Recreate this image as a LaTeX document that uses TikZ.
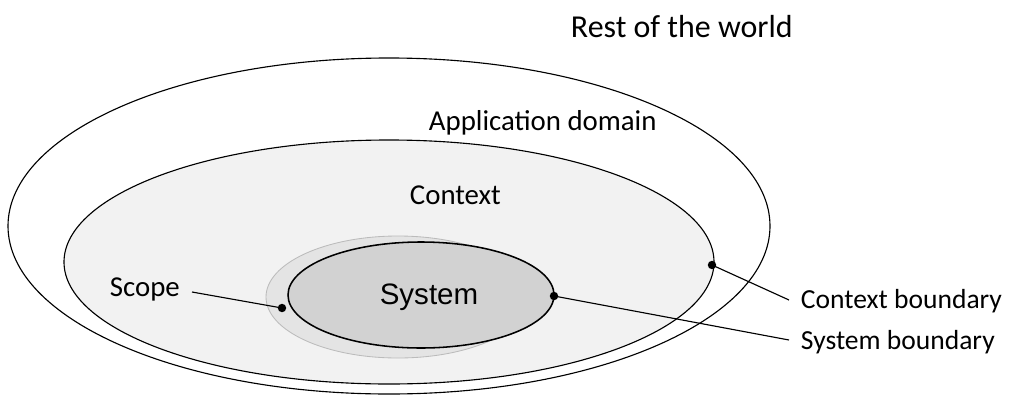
\documentclass[tikz,border=0pt]{standalone}
\usepackage{fontspec}
\setmainfont{Carlito}
\newfontfamily\arialfont{Liberation Sans}
\usepackage{tikz}
\usetikzlibrary{positioning}
\definecolor{ctxgray}{HTML}{F2F2F2}
\definecolor{scopegray}{HTML}{E4E4E4}
\definecolor{scopeline}{HTML}{BBBBBB}
\definecolor{sysgray}{HTML}{D2D2D2}
\tikzstyle{lbl}=[inner sep=1pt, font=\fontsize{20.5}{24}\selectfont]
\tikzstyle{bnd}=[inner sep=1pt, font=\fontsize{19.6}{24}\selectfont]
\tikzstyle{dot}=[fill=black, circle, inner sep=0pt, minimum size=6pt]

\begin{document}
\begin{tikzpicture}[x=0.025cm, y=-0.025cm, line width=0.8pt]
      \useasboundingbox (0, 0) rectangle (1013, 396);
      \draw (389, 226) ellipse [x radius=381, y radius=168];
      \draw [fill=ctxgray] (389, 262) ellipse [x radius=325, y radius=122];
      \draw [fill=scopegray, draw=scopeline, line width=0.6pt] (398, 297) ellipse [x radius=132, y radius=61];
      \draw [fill=sysgray, line width=1.1pt] (421, 295) ellipse [x radius=133, y radius=53];

      \node [lbl, anchor=west, font=\fontsize{22.7}{26}\selectfont] (world) at (569, 27) {Rest of the world};
      \node [lbl, anchor=west] (domain) at (427, 123) {Application domain};
      \node [lbl, anchor=west] (context) at (408, 195) {Context};
      \node [inner sep=1pt, font=\arialfont\fontsize{21}{24}\selectfont] (system) at (429, 297) {System};
      \node [lbl, anchor=west] (scope) at (108, 289) {Scope};
      \node [bnd, anchor=west] (ctxb) at (799, 301) {Context boundary};
      \node [bnd, anchor=west] (sysb) at (799, 342) {System boundary};

      \node [dot] (scopedot) at (282, 308) {};
      \node [dot] (sysdot) at (554, 296) {};
      \node [dot] (ctxdot) at (712, 265) {};
      \coordinate (scopeend) at (192, 292);
      \coordinate (ctxend) at (789, 300);
      \coordinate (sysend) at (789, 340);

      \draw (scopeend) -- (scopedot.center)
            (ctxdot.center) -- (ctxend)
            (sysdot.center) -- (sysend);
\end{tikzpicture}
\end{document}
